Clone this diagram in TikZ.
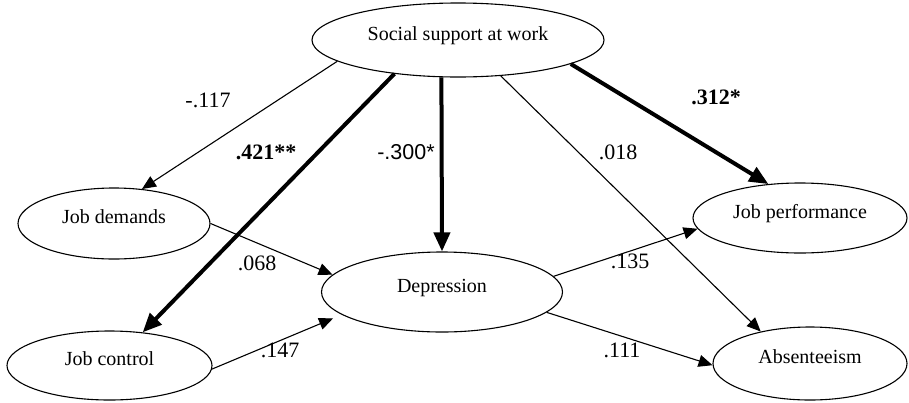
\documentclass[tikz,border=0pt]{standalone}
\usepackage{fontspec}
\setmainfont{Liberation Serif}
\newfontfamily\coefsans{Liberation Sans}
\usetikzlibrary{shapes.geometric,arrows.meta}
\begin{document}
\begin{tikzpicture}[x=1pt,y=-1pt,
  var/.style={draw,ellipse,line width=1.1pt,inner sep=0pt,text height=10pt,text depth=10pt,font=\fontsize{20}{22}\selectfont},
  thinarr/.style={line width=1.1pt,-{Triangle[length=14pt,width=12pt]}},
  thickarr/.style={line width=4pt,-{Triangle[length=19pt,width=16pt]}},
  coef/.style={font=\fontsize{22}{24}\selectfont,inner sep=0pt},
  scoef/.style={font=\coefsans\fontsize{21.5}{24}\selectfont,inner sep=0pt},
  bcoef/.style={font=\fontsize{22}{24}\selectfont\bfseries,inner sep=0pt}]
\useasboundingbox (0,0) rectangle (909,402);
\fill[white] (0,0) rectangle (909,402);

\node[var,minimum width=292pt,minimum height=74pt] (ss) at (458,40) {Social support at work};
\node[var,minimum width=192pt,minimum height=71pt] (jd) at (114,223.5) {Job demands};
\node[var,minimum width=205pt,minimum height=69pt] (jc) at (109.5,365.5) {Job control};
\node[var,minimum width=241pt,minimum height=80pt] (dep) at (442,292) {Depression};
\node[var,minimum width=214pt,minimum height=70pt] (jp) at (800,218) {Job performance};
\node[var,minimum width=194pt,minimum height=73pt] (ab) at (810,363.5) {Absenteeism};

\draw[thinarr] (ss.190.7) -- (jd.51.5);
\draw[thickarr] (ss.208.4) -- (jc.45.9);
\draw[thickarr] (ss.246.5) -- (dep.90);
\draw[thinarr] (ss.320.2) -- (ab.147.2);
\draw[thickarr] (ss.348.9) -- (jp.133.3);
\draw[thinarr] (jd.0) -- (dep.171.1);
\draw[thinarr] (jc.358) -- ([xshift=-17pt]dep.196);
\draw[thinarr] (dep.8.7) -- (jp.186);
\draw[thinarr] (dep.349.7) -- (ab.181);

\node[coef] (l1) at (208,100) {-.117};
\node[bcoef] (l2) at (716,97) {.312*};
\node[bcoef] (l3) at (266,152) {.421**};
\node[scoef] (l4) at (406,152) {-.300*};
\node[coef] (l5) at (618,152) {.018};
\node[coef] (l6) at (257,263) {.068};
\node[coef] (l7) at (630,261) {.135};
\node[coef] (l8) at (280,350) {.147};
\node[coef] (l9) at (622,350) {.111};
\end{tikzpicture}
\end{document}
